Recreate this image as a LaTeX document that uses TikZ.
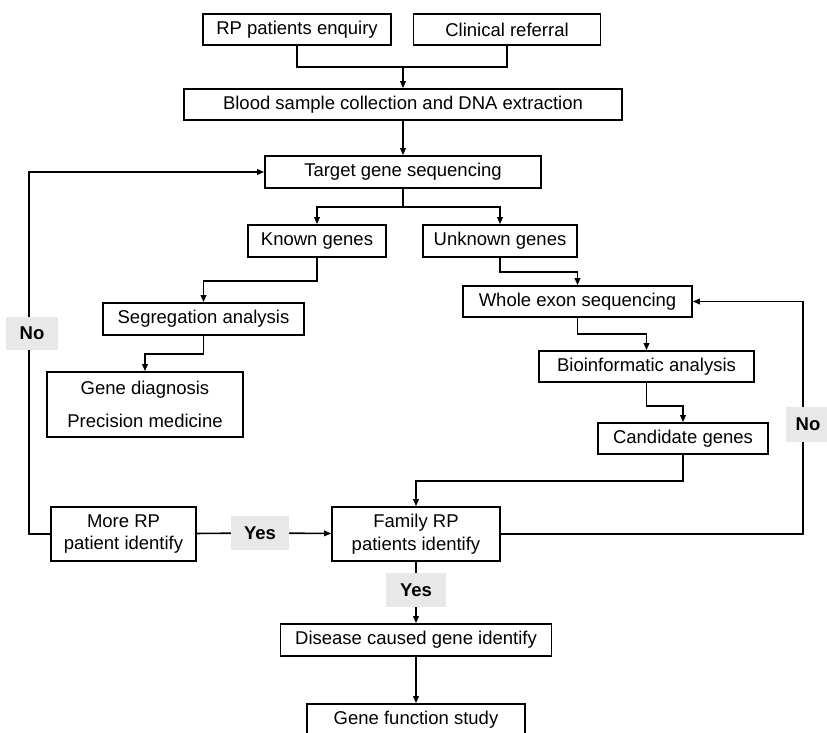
\documentclass[tikz,border=0pt]{standalone}
\usepackage{fontspec}
\setmainfont{Liberation Sans}
\usetikzlibrary{arrows.meta, positioning, calc}

\definecolor{taggray}{HTML}{E8E8E8}

\begin{document}
\begin{tikzpicture}[
      x=1pt, y=-1pt,
      box/.style={rectangle, draw, line width=1.6pt, minimum height=31pt, inner sep=3pt, align=center, font=\fontsize{18.5}{22.5}\selectfont},
      tag/.style={rectangle, fill=taggray, minimum height=34pt, inner sep=2pt, font=\fontsize{18.5}{22.5}\selectfont\bfseries},
      link/.style={line width=1.6pt},
      arrow/.style={-{Triangle[length=7pt, width=5.5pt]}, line width=1.6pt}
    ]
    \useasboundingbox (0,0) rectangle (827,732);

    % entry points
    \node[box, minimum width=188pt] (enquiry) at (297,29.5) {RP patients enquiry};
    \node[box, minimum width=187pt] (referral) at (507,29.5) {Clinical referral};
    \node[box, minimum width=438pt] (blood) at (403,104.5) {Blood sample collection and DNA extraction};
    \node[box, minimum width=276pt, minimum height=32pt] (target) at (403,172) {Target gene sequencing};

    % known / unknown branch
    \node[box, minimum width=138pt, minimum height=32pt] (known) at (317,241) {Known genes};
    \node[box, minimum width=154pt, minimum height=32pt] (unknown) at (500,241) {Unknown genes};
    \node[box, minimum width=201pt, minimum height=32pt] (segreg) at (203.5,319) {Segregation analysis};
    \node[box, minimum width=196pt, minimum height=65pt] (diagnosis) at (145,404.5) {Gene diagnosis\\[11pt]Precision medicine};
    \node[box, minimum width=229pt] (wes) at (577.5,301.5) {Whole exon sequencing};
    \node[box, minimum width=215pt] (bioinf) at (646.5,366.5) {Bioinformatic analysis};
    \node[box, minimum width=170pt] (candidate) at (683,438.5) {Candidate genes};

    % family check
    \node[box, minimum width=145pt, minimum height=54pt] (more) at (123.5,534) {More RP\\patient identify};
    \node[box, minimum width=168pt, minimum height=54pt] (family) at (416,534) {Family RP\\patients identify};
    \node[tag, minimum width=58pt] (yesmore) at (260,533) {Yes};
    \node[tag, minimum width=60pt] (yesfam) at (416,590) {Yes};
    \node[box, minimum width=271pt, minimum height=32pt] (disease) at (416,640) {Disease caused gene identify};
    \node[box, minimum width=218pt, minimum height=32pt] (function) at (416,720) {Gene function study};

    % connectors
    \coordinate (merge) at (403,67);
    \coordinate (split) at (403,207);
    \draw[link] (enquiry.south) |- (merge) -| (referral.south);
    \draw[arrow] (merge) -- (blood);
    \draw[arrow] (blood) -- (target);
    \draw[link] (target.south) -- (split);
    \draw[arrow] (split) -| (known.north);
    \draw[arrow] (split) -| (unknown.north);
    \draw[arrow] (known.south) -- ++(0,23) -| (segreg.north);
    \draw[arrow] (segreg.south) -- ++(0,18) -| (diagnosis.north);
    \draw[arrow] (unknown.south) -- ++(0,14) -| (wes.north);
    \draw[arrow] (wes.south) -- ++(0,16) -| (bioinf.north);
    \draw[arrow] (bioinf.south) -- ++(0,23) -| (candidate.north);
    \draw[arrow] (candidate.south) -- ++(0,26) -| (family.north);
    \draw[link] (more) -- (yesmore);
    \draw[arrow] (yesmore) -- (family);
    \draw[link] (family) -- (yesfam);
    \draw[arrow] (yesfam) -- (disease);
    \draw[arrow] (disease) -- (function);

    % loops back
    \draw[arrow] (more.west) -- ++(-21,0) |- (target.west);
    \draw[arrow] (family.east) -- ++(302,0) |- (wes.east);
    \node[tag, minimum width=52pt, minimum height=33pt] (noleft) at (32,333) {No};
    \node[tag, minimum width=44pt, minimum height=35pt] (noright) at (808,424.5) {No};
  \end{tikzpicture}
\end{document}
